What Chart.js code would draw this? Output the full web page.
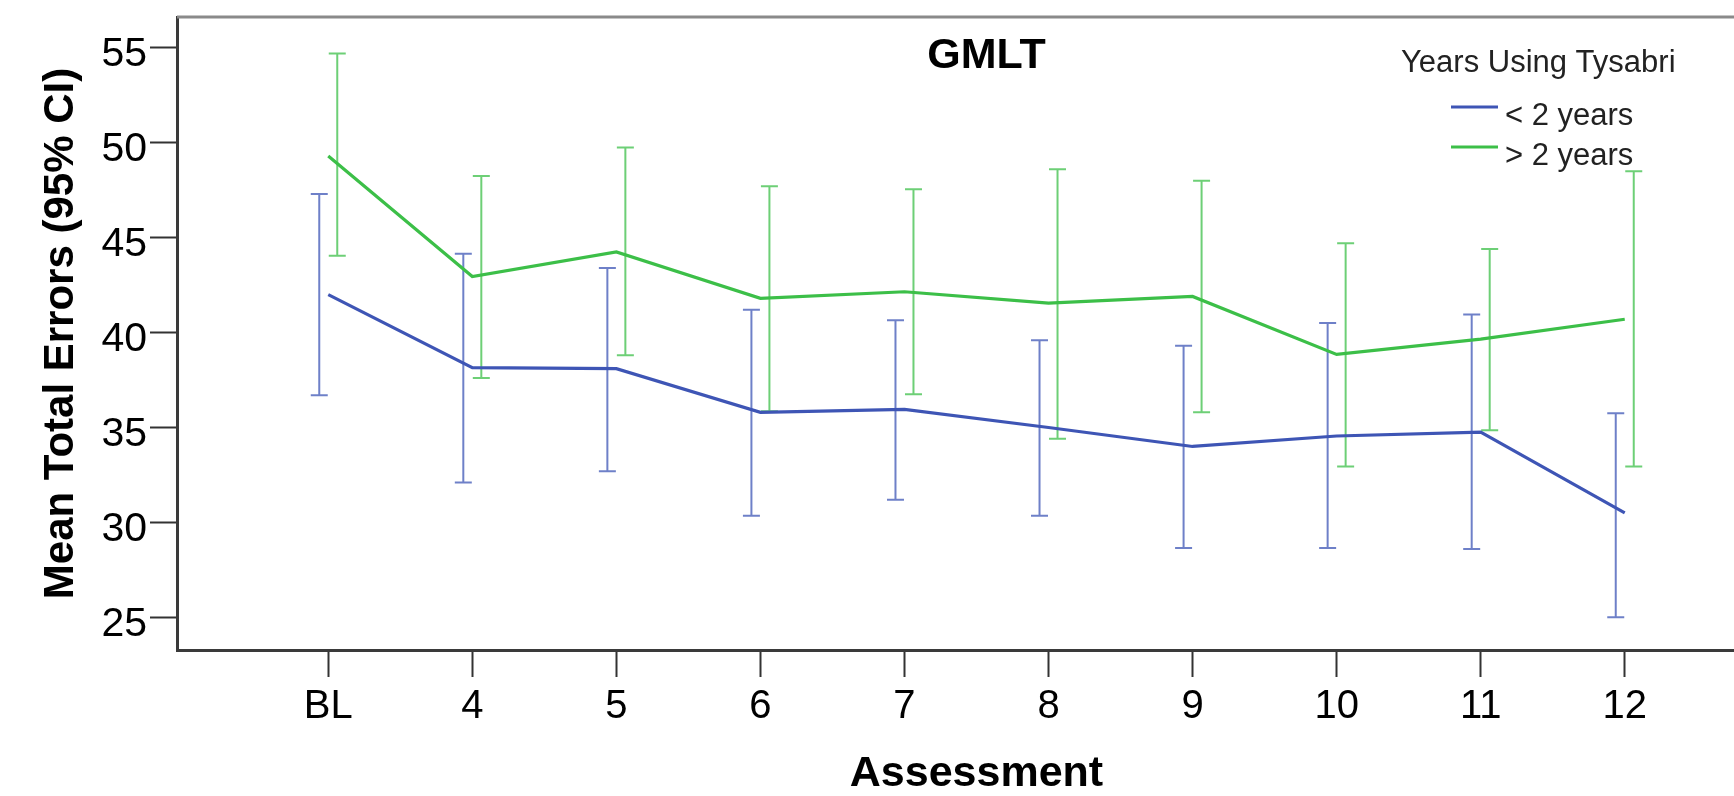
<!DOCTYPE html>
<html>
<head>
<meta charset="utf-8">
<script src="https://cdn.jsdelivr.net/npm/chart.js@4.4.0/dist/chart.umd.min.js"></script>
<style>
  html, body { margin: 0; padding: 0; background: #fff; overflow: hidden; }
  #wrap { width: 1734px; height: 796px; overflow: hidden; position: relative; }
  /* plot frame runs past the right edge of the picture, like the cropped original */
  #box { width: 1776px; height: 796px; position: relative; }
</style>
</head>
<body>
<div id="wrap"><div id="box"><canvas id="gmltChart"></canvas></div></div>
<script>
const assessments = ['BL', '4', '5', '6', '7', '8', '9', '10', '11', '12'];
const yTicks = [25, 30, 35, 40, 45, 50, 55];
const chartTitle = 'GMLT';
const legendTitle = 'Years Using Tysabri';

// < 2 years
const under2Mean = [42.0, 38.15, 38.1, 35.8, 35.95, 35.0, 34.0, 34.55, 34.75, 30.5];
const under2Low  = [36.7, 32.1, 32.7, 30.35, 31.2, 30.35, 28.65, 28.65, 28.6, 25.0];
const under2High = [47.3, 44.15, 43.4, 41.2, 40.65, 39.6, 39.3, 40.5, 40.95, 35.75];

// > 2 years
const over2Mean = [49.3, 42.95, 44.25, 41.8, 42.15, 41.55, 41.9, 38.85, 39.65, 40.7];
const over2Low  = [44.05, 37.6, 38.8, 35.85, 36.75, 34.4, 35.8, 32.95, 34.85, 32.95];
const over2High = [54.7, 48.25, 49.75, 47.7, 47.55, 48.6, 48.0, 44.7, 44.4, 48.5];

const FONT = '"Liberation Sans", Arial, sans-serif';
const BLUE = '#3e55b5';
const GREEN = '#3cbf48';

const toPoints = (arr) => arr.map((v, i) => ({ x: i, y: v }));

// 95% CI whiskers, drawn under the mean lines
const errorBars = {
  id: 'errorBars',
  beforeDatasetsDraw(chart) {
    const { ctx, scales: { x, y } } = chart;
    chart.data.datasets.forEach(ds => {
      ctx.save();
      ctx.strokeStyle = ds.borderColor;
      ctx.globalAlpha = 0.75;
      ctx.lineWidth = 2;
      ds.low.forEach((lo, i) => {
        const px = x.getPixelForValue(i) + ds.barShift;
        const yl = y.getPixelForValue(lo);
        const yh = y.getPixelForValue(ds.high[i]);
        ctx.beginPath();
        ctx.moveTo(px, yl); ctx.lineTo(px, yh);
        ctx.moveTo(px - 8.5, yl); ctx.lineTo(px + 8.5, yl);
        ctx.moveTo(px - 8.5, yh); ctx.lineTo(px + 8.5, yh);
        ctx.stroke();
      });
      ctx.restore();
    });
  }
};

// top frame line + title inside the plot + legend block
const decorations = {
  id: 'decorations',
  afterDraw(chart) {
    const { ctx, chartArea: ca } = chart;
    ctx.save();
    ctx.strokeStyle = '#8a8a8a';
    ctx.lineWidth = 3;
    ctx.beginPath();
    ctx.moveTo(ca.left, ca.top);
    ctx.lineTo(ca.right, ca.top);
    ctx.stroke();

    ctx.fillStyle = '#000';
    ctx.font = 'bold 43px ' + FONT;
    ctx.textAlign = 'center';
    ctx.textBaseline = 'middle';
    ctx.fillText(chartTitle, (ca.left + ca.right) / 2 + 10, ca.top + 39);

    ctx.fillStyle = '#222';
    ctx.font = '31px ' + FONT;
    ctx.textAlign = 'left';
    ctx.fillText(legendTitle, 1401, 63);
    chart.data.datasets.forEach((ds, i) => {
      const ly = 107 + i * 40;
      ctx.strokeStyle = ds.borderColor;
      ctx.lineWidth = 3;
      ctx.beginPath();
      ctx.moveTo(1451, ly);
      ctx.lineTo(1498, ly);
      ctx.stroke();
      ctx.fillText(ds.label, 1505, ly + 9);
    });
    ctx.restore();
  }
};

new Chart(document.getElementById('gmltChart'), {
  type: 'line',
  data: {
    datasets: [
      {
        label: '< 2 years',
        data: toPoints(under2Mean),
        low: under2Low,
        high: under2High,
        barShift: -9,
        borderColor: BLUE,
        borderWidth: 3.2,
        pointRadius: 0,
        tension: 0
      },
      {
        label: '> 2 years',
        data: toPoints(over2Mean),
        low: over2Low,
        high: over2High,
        barShift: 9,
        borderColor: GREEN,
        borderWidth: 3.2,
        pointRadius: 0,
        tension: 0
      }
    ]
  },
  options: {
    responsive: true,
    maintainAspectRatio: false,
    animation: false,
    layout: { padding: { top: 17, left: 0, right: 0, bottom: 0 } },
    plugins: {
      legend: { display: false },
      tooltip: { enabled: false }
    },
    scales: {
      x: {
        type: 'linear',
        min: -1.05,
        max: 10.05,
        afterBuildTicks: (scale) => { scale.ticks = assessments.map((_, i) => ({ value: i })); },
        afterFit: (scale) => { scale.height = 146; scale.paddingLeft = 0; scale.paddingRight = 0; },
        ticks: {
          callback: (v) => assessments[v],
          color: '#000',
          padding: 6,
          maxRotation: 0,
          autoSkip: false,
          font: { family: FONT, size: 40 }
        },
        grid: {
          drawOnChartArea: false,
          drawTicks: true,
          tickLength: 27,
          tickColor: '#333',
          tickWidth: 2
        },
        border: { display: true, color: '#3a3a3a', width: 3 },
        title: {
          display: true,
          text: 'Assessment',
          color: '#000',
          padding: { top: 0, bottom: -4 },
          font: { family: FONT, size: 43, weight: 'bold' }
        }
      },
      y: {
        min: 23.28,
        max: 56.62,
        afterBuildTicks: (scale) => { scale.ticks = yTicks.map(v => ({ value: v })); },
        afterFit: (scale) => { scale.width = 177; scale.paddingTop = 0; scale.paddingBottom = 0; },
        ticks: {
          color: '#000',
          padding: 3,
          labelOffset: 7,
          font: { family: FONT, size: 41 }
        },
        grid: {
          drawOnChartArea: false,
          drawTicks: true,
          tickLength: 27,
          tickColor: '#333',
          tickWidth: 2
        },
        border: { display: true, color: '#3a3a3a', width: 3 },
        title: {
          display: true,
          text: 'Mean Total Errors (95% CI)',
          color: '#000',
          padding: { top: 36, bottom: 0 },
          font: { family: FONT, size: 42, weight: 'bold' }
        }
      }
    }
  },
  plugins: [errorBars, decorations]
});
</script>
</body>
</html>
